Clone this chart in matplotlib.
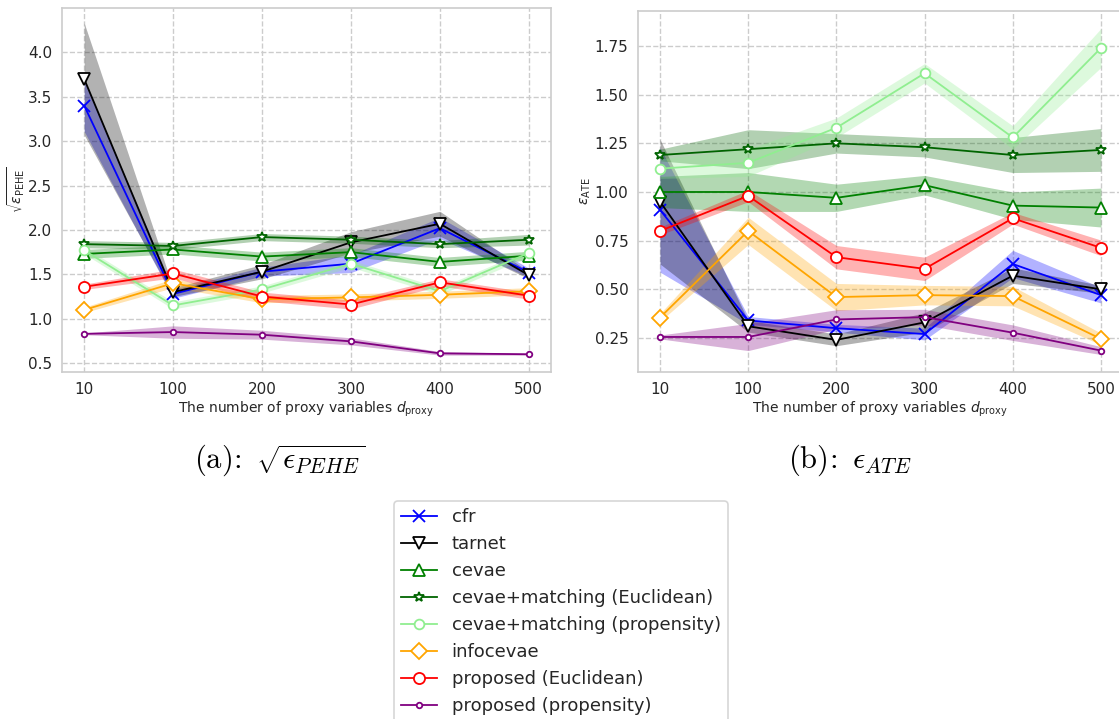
import numpy as np
import matplotlib
matplotlib.use("Agg")
import matplotlib.pyplot as plt

plt.rcParams["font.family"] = ["DejaVu Sans"]
plt.rcParams["mathtext.fontset"] = "dejavusans"

# 横轴：代理变量个数
d_proxy = [10, 100, 200, 300, 400, 500]

methods = ["cfr", "tarnet", "cevae", "cevae+matching (Euclidean)",
           "cevae+matching (propensity)", "infocevae",
           "proposed (Euclidean)", "proposed (propensity)"]

# sqrt(eps_PEHE) 均值 / 标准差
pehe_cfr = [3.40, 1.28, 1.53, 1.62, 2.02, 1.52]
pehe_tarnet = [3.70, 1.30, 1.53, 1.86, 2.07, 1.49]
pehe_cevae = [1.73, 1.78, 1.70, 1.75, 1.64, 1.71]
pehe_cevae_euc = [1.84, 1.82, 1.92, 1.89, 1.84, 1.89]
pehe_cevae_prop = [1.77, 1.15, 1.33, 1.62, 1.31, 1.74]
pehe_info = [1.10, 1.40, 1.22, 1.24, 1.27, 1.31]
pehe_prop_euc = [1.36, 1.51, 1.25, 1.16, 1.41, 1.26]
pehe_prop_prop = [0.83, 0.85, 0.82, 0.745, 0.61, 0.60]

pehe_cfr_sd = [0.29, 0.05, 0.05, 0.10, 0.12, 0.05]
pehe_tarnet_sd = [0.63, 0.05, 0.08, 0.12, 0.14, 0.04]
pehe_cevae_sd = [0.05, 0.05, 0.05, 0.05, 0.05, 0.05]
pehe_cevae_euc_sd = [0.04, 0.04, 0.04, 0.04, 0.04, 0.06]
pehe_cevae_prop_sd = [0.04, 0.04, 0.04, 0.04, 0.04, 0.04]
pehe_info_sd = [0.03, 0.05, 0.04, 0.04, 0.04, 0.04]
pehe_prop_euc_sd = [0.03, 0.05, 0.05, 0.05, 0.04, 0.04]
pehe_prop_prop_sd = [0.01, 0.07, 0.05, 0.04, 0.02, 0.01]

# eps_ATE 均值 / 标准差
ate_cfr = [0.908, 0.34, 0.30, 0.27, 0.63, 0.47]
ate_tarnet = [0.95, 0.31, 0.24, 0.33, 0.57, 0.50]
ate_cevae = [1.00, 1.00, 0.97, 1.035, 0.93, 0.92]
ate_cevae_euc = [1.19, 1.22, 1.25, 1.23, 1.19, 1.216]
ate_cevae_prop = [1.12, 1.15, 1.33, 1.61, 1.28, 1.74]
ate_info = [0.355, 0.80, 0.46, 0.47, 0.465, 0.245]
ate_prop_euc = [0.80, 0.98, 0.665, 0.605, 0.865, 0.713]
ate_prop_prop = [0.255, 0.255, 0.345, 0.357, 0.277, 0.185]

ate_cfr_sd = [0.32, 0.02, 0.02, 0.03, 0.07, 0.04]
ate_tarnet_sd = [0.32, 0.03, 0.03, 0.05, 0.04, 0.02]
ate_cevae_sd = [0.08, 0.10, 0.07, 0.05, 0.07, 0.10]
ate_cevae_euc_sd = [0.03, 0.10, 0.05, 0.05, 0.09, 0.11]
ate_cevae_prop_sd = [0.05, 0.07, 0.05, 0.05, 0.06, 0.10]
ate_info_sd = [0.02, 0.07, 0.07, 0.05, 0.05, 0.03]
ate_prop_euc_sd = [0.02, 0.03, 0.06, 0.06, 0.03, 0.04]
ate_prop_prop_sd = [0.01, 0.07, 0.05, 0.04, 0.04, 0.02]

pehe_means = [pehe_cfr, pehe_tarnet, pehe_cevae, pehe_cevae_euc,
              pehe_cevae_prop, pehe_info, pehe_prop_euc, pehe_prop_prop]
pehe_sds = [pehe_cfr_sd, pehe_tarnet_sd, pehe_cevae_sd, pehe_cevae_euc_sd,
            pehe_cevae_prop_sd, pehe_info_sd, pehe_prop_euc_sd, pehe_prop_prop_sd]
ate_means = [ate_cfr, ate_tarnet, ate_cevae, ate_cevae_euc,
             ate_cevae_prop, ate_info, ate_prop_euc, ate_prop_prop]
ate_sds = [ate_cfr_sd, ate_tarnet_sd, ate_cevae_sd, ate_cevae_euc_sd,
           ate_cevae_prop_sd, ate_info_sd, ate_prop_euc_sd, ate_prop_prop_sd]

# 每个方法的颜色 / 标记
styles = [
    dict(color="blue", marker="x", ms=8, mfc="blue"),
    dict(color="black", marker="v", ms=8, mfc="white"),
    dict(color="green", marker="^", ms=8, mfc="white"),
    dict(color="darkgreen", marker="*", ms=7, mfc="white"),
    dict(color="lightgreen", marker="o", ms=7, mfc="white"),
    dict(color="orange", marker="D", ms=8, mfc="white"),
    dict(color="red", marker="o", ms=8, mfc="white"),
    dict(color="purple", marker="o", ms=4, mfc="white"),
]


def draw_panel(ax, means, sds, ylabel, ylim, yticks, fmt):
    x = np.arange(len(d_proxy))
    for name, m, s, st in zip(methods, means, sds, styles):
        m = np.asarray(m)
        s = np.asarray(s)
        ax.fill_between(x, m - s, m + s, color=st["color"], alpha=0.3, linewidth=0)
        ax.plot(x, m, color=st["color"], marker=st["marker"], markersize=st["ms"],
                markerfacecolor=st["mfc"], markeredgecolor=st["color"],
                markeredgewidth=1.3, linewidth=1.3, label=name)
    ax.set_xticks(x)
    ax.set_xticklabels([str(d) for d in d_proxy])
    ax.set_xlim(-0.25, len(d_proxy) - 0.75)
    ax.set_ylim(*ylim)
    ax.set_yticks(yticks)
    ax.set_yticklabels([fmt.format(v) for v in yticks])
    ax.set_xlabel(r"The number of proxy variables $d_{\rm proxy}$", fontsize=10,
                  color="#262626", labelpad=2)
    ax.set_ylabel(ylabel, fontsize=10, color="#262626", labelpad=1)
    ax.grid(True, linestyle="--", color="#cccccc", linewidth=1)
    ax.set_axisbelow(True)
    for sp in ax.spines.values():
        sp.set_color("#cccccc")
        sp.set_linewidth(1.2)
    ax.tick_params(length=0, labelsize=11, labelcolor="#262626", pad=7)


W, H = 1119, 719
fig = plt.figure(figsize=(W / 100, H / 100), dpi=100)

ax1 = fig.add_axes([62 / W, 1 - 372 / H, 489 / W, 364 / H])
ax2 = fig.add_axes([638 / W, 1 - 372 / H, 485 / W, 361 / H])

draw_panel(ax1, pehe_means, pehe_sds, r"$\sqrt{\epsilon_{\rm PEHE}}$",
           (0.4, 4.5), np.arange(0.5, 4.01, 0.5), "{:.1f}")
draw_panel(ax2, ate_means, ate_sds, r"$\epsilon_{\rm ATE}$",
           (0.075, 1.93), np.arange(0.25, 1.76, 0.25), "{:.2f}")

# 子图标题（放在图下方，Computer Modern 字体）
fig.text(280 / W, 1 - 460 / H, r"$\mathrm{(a)\!:}\ \sqrt{\epsilon_{PEHE}}$",
         fontsize=22, math_fontfamily="cm", ha="center", va="center")
fig.text(850 / W, 1 - 460 / H, r"$\mathrm{(b)\!:}\ \epsilon_{ATE}$",
         fontsize=22, math_fontfamily="cm", ha="center", va="center")

handles, labels = ax1.get_legend_handles_labels()
leg = fig.legend(handles, labels, loc="upper center",
                 bbox_to_anchor=(561 / W, 1 - 501 / H), borderaxespad=0,
                 fontsize=13, frameon=True, fancybox=True, labelspacing=0.5,
                 handletextpad=0.8, borderpad=0.4)
leg.get_frame().set_edgecolor("#cccccc")
leg.get_frame().set_linewidth(1.2)
for t in leg.get_texts():
    t.set_color("#262626")

fig.savefig("out.png", dpi=100)
